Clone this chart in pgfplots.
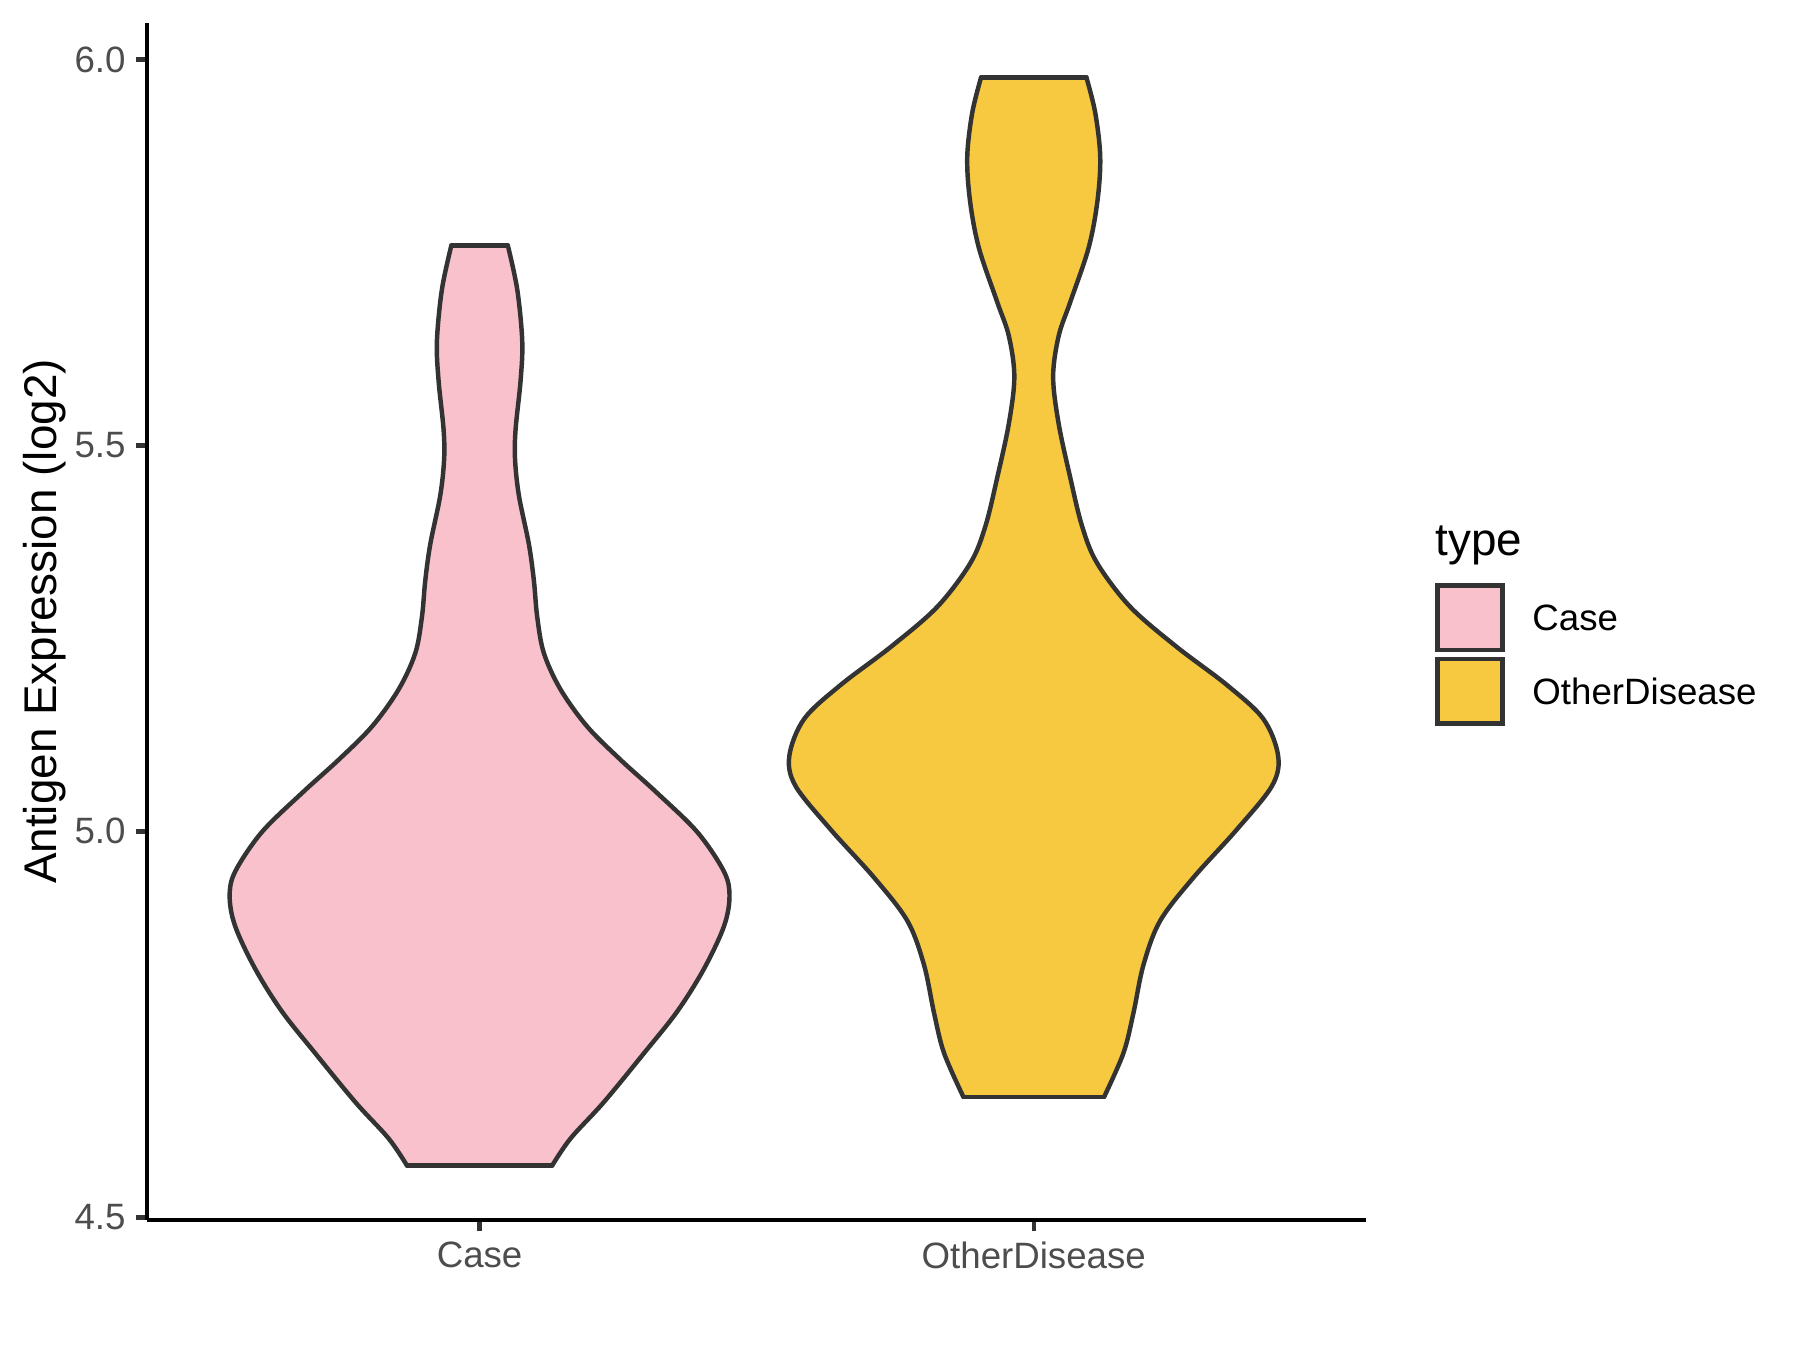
\documentclass[border=0pt]{standalone}
\usepackage{fontspec}
\setmainfont{Liberation Sans}
\usepackage{pgfplots}
\pgfplotsset{compat=1.18}
\usepgfplotslibrary{fillbetween}
\definecolor{casefill}{HTML}{F8C1CB}
\definecolor{otherfill}{HTML}{F6C940}
\definecolor{edge}{HTML}{333333}
\definecolor{ticklab}{HTML}{4D4D4D}

\begin{document}
\begin{tikzpicture}
\begin{axis}[
  at={(35.3pt,31.2pt)}, anchor=south west,
  scale only axis, width=292.6pt, height=287.3pt,
  xmin=0.4, xmax=2.6, ymin=4.4965, ymax=6.0475,
  axis x line*=bottom, axis y line*=left,
  axis line style={black, line width=1.07pt},
  xtick={1,2}, xticklabels={Case,OtherDisease},
  ytick={4.5,5,5.5,6},
  tick align=outside, major tick length=2.75pt,
  tick style={edge, line width=1.07pt},
  tick label style={font=\fontsize{8.8}{10}\selectfont, text=ticklab},
  xticklabel style={yshift=1.1pt},
  yticklabel style={xshift=1.1pt, /pgf/number format/.cd, fixed, fixed zerofill, precision=1, assume math mode=true},
  ylabel={Antigen Expression (log2)},
  ylabel style={font=\fontsize{11}{13}\selectfont, at={(axis description cs:-0.0844,0.5)}, anchor=center},
  legend image code/.code={\draw[#1] (0pt,-6.9pt) rectangle (15.6pt,8.55pt);},
  legend style={draw=none, fill=none, at={(axis description cs:1.0561,0.5326)}, anchor=north west,
    inner sep=0pt, column sep=4.6pt, row sep=1.1pt,
    font=\fontsize{8.8}{10}\selectfont, cells={anchor=west}},
  clip mode=individual,
  violin/.style={smooth, tension=0.55, draw=edge, line width=1.07pt, line cap=round, forget plot},
  edgeline/.style={draw=edge, line width=1.07pt, line cap=round, forget plot},
]
% Case
\addplot[violin, name path=caseR] coordinates {
(1.051,5.759) (1.068,5.702) (1.077,5.635) (1.074,5.584) (1.065,5.521) (1.064,5.482) (1.071,5.435)
(1.089,5.372) (1.098,5.325) (1.104,5.278) (1.116,5.231) (1.146,5.184) (1.194,5.136) (1.254,5.093)
(1.320,5.050) (1.393,4.999) (1.441,4.948) (1.451,4.916) (1.441,4.877) (1.405,4.822) (1.357,4.767)
(1.296,4.712) (1.224,4.649) (1.164,4.602) (1.131,4.567)
};
\addplot[violin, name path=caseL] coordinates {
(0.949,5.759) (0.932,5.702) (0.923,5.635) (0.926,5.584) (0.935,5.521) (0.936,5.482) (0.929,5.435)
(0.911,5.372) (0.902,5.325) (0.896,5.278) (0.884,5.231) (0.854,5.184) (0.806,5.136) (0.746,5.093)
(0.680,5.050) (0.607,4.999) (0.559,4.948) (0.549,4.916) (0.559,4.877) (0.595,4.822) (0.643,4.767)
(0.704,4.712) (0.776,4.649) (0.836,4.602) (0.869,4.567)
};
\addplot[fill=casefill, draw=none, forget plot] fill between[of=caseR and caseL, reverse=true];
\addplot[edgeline] coordinates {(0.949,5.759) (1.051,5.759)};
\addplot[edgeline] coordinates {(0.869,4.567) (1.131,4.567)};
% OtherDisease
\addplot[violin, name path=othR] coordinates {
(2.095,5.977) (2.111,5.931) (2.120,5.874) (2.115,5.817) (2.099,5.756) (2.066,5.686) (2.045,5.642)
(2.035,5.589) (2.045,5.528) (2.066,5.458) (2.087,5.396) (2.114,5.348) (2.174,5.291) (2.258,5.239)
(2.348,5.190) (2.414,5.146) (2.441,5.098) (2.430,5.059) (2.366,5.002) (2.288,4.940) (2.228,4.884)
(2.198,4.827) (2.180,4.765) (2.162,4.713) (2.127,4.656)
};
\addplot[violin, name path=othL] coordinates {
(1.905,5.977) (1.889,5.931) (1.880,5.874) (1.885,5.817) (1.901,5.756) (1.934,5.686) (1.955,5.642)
(1.965,5.589) (1.955,5.528) (1.934,5.458) (1.913,5.396) (1.886,5.348) (1.826,5.291) (1.742,5.239)
(1.652,5.190) (1.586,5.146) (1.559,5.098) (1.570,5.059) (1.634,5.002) (1.712,4.940) (1.772,4.884)
(1.802,4.827) (1.820,4.765) (1.838,4.713) (1.873,4.656)
};
\addplot[fill=otherfill, draw=none, forget plot] fill between[of=othR and othL, reverse=true];
\addplot[edgeline] coordinates {(1.905,5.977) (2.095,5.977)};
\addplot[edgeline] coordinates {(1.873,4.656) (2.127,4.656)};
% legend
\addlegendimage{fill=casefill, draw=edge, line width=1.07pt}
\addlegendentry{Case}
\addlegendimage{fill=otherfill, draw=edge, line width=1.07pt}
\addlegendentry{OtherDisease}
\node[anchor=base west, font=\fontsize{11}{13}\selectfont, inner sep=0pt] at (axis description cs:1.0564,0.5555) {type};
\end{axis}
\path (0,0) rectangle (432pt,324pt);
\end{tikzpicture}
\end{document}
